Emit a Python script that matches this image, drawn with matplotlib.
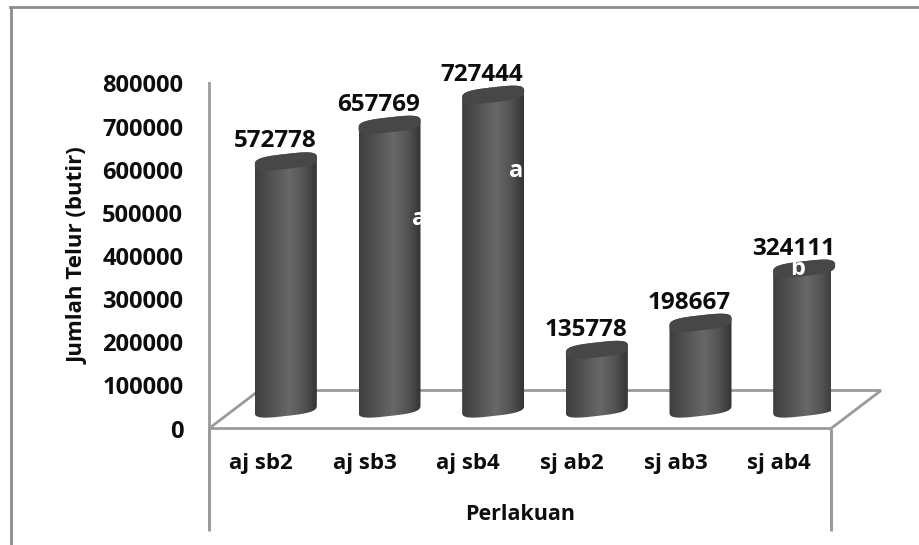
"""Egg counts per treatment as a pseudo-3D cylinder chart."""
import matplotlib

matplotlib.use("Agg")

import matplotlib.pyplot as plt
import numpy as np
from matplotlib.colors import LinearSegmentedColormap
from matplotlib.lines import Line2D
from matplotlib.patches import PathPatch, Polygon
from matplotlib.path import Path

plt.rcParams["font.family"] = ["Open Sans", "DejaVu Sans"]
plt.rcParams["font.weight"] = "bold"

categories = ["aj sb2", "aj sb3", "aj sb4", "sj ab2", "sj ab3", "sj ab4"]
egg_counts = [572778, 657769, 727444, 135778, 198667, 324111]
y_ticks = [0, 100000, 200000, 300000, 400000, 500000, 600000, 700000, 800000]
letters = [("a", 1, 485000), ("a", 2, 597000), ("b", 5, 369000)]

WIDTH, HEIGHT = 919, 545
GREY = "#9a9a9a"
INK = "#0d0d0d"

fig = plt.figure(figsize=(WIDTH / 100, HEIGHT / 100), dpi=100)
ax = fig.add_axes(
    [209 / WIDTH, 1 - 428.5 / HEIGHT, 622 / WIDTH, 345 / HEIGHT]
)
ax.set_xlim(-0.5, 5.5)
ax.set_ylim(0, 800000)

x_per_px = 6 / 622
y_per_px = 800000 / 345
depth_x = 50 * x_per_px
depth_y = 38 * y_per_px
# cylinders stand in the middle of the floor, halfway back
offset_x = 25 * x_per_px
offset_y = 20 * y_per_px
half_w = 31 * x_per_px
ell_h = 7.5 * y_per_px
ell_shear = 3.5 * y_per_px

ax.patch.set_visible(False)
for name in ("top", "right", "bottom"):
    ax.spines[name].set_visible(False)
ax.spines["left"].set_color(GREY)
ax.spines["left"].set_linewidth(2)
ax.spines["left"].set_bounds(0, 800000)

# floor outline, front edge is the category axis
floor = Polygon(
    [(-0.5, 0), (-0.5 + depth_x, depth_y), (5.5 + depth_x, depth_y), (5.5, 0)],
    closed=True, fill=False, edgecolor=GREY, linewidth=2, clip_on=False, zorder=1,
)
ax.add_patch(floor)
for x_edge in (-0.5, 5.5):
    ax.plot([x_edge, x_edge], [0, -102 * y_per_px], color=GREY, lw=2.2,
            clip_on=False, solid_capstyle="butt", zorder=1)

shade = LinearSegmentedColormap.from_list(
    "cyl",
    [(0, "#3e3e3e"), (0.22, "#4e4e4e"), (0.55, "#686868"), (0.8, "#525252"), (1, "#343434")],
)
gradient = np.linspace(0, 1, 128).reshape(1, -1)


def ellipse_points(cx, cy, t):
    # slightly squared ellipse, tilted up towards the right
    c, s = np.cos(t), np.sin(t)
    c = np.sign(c) * np.abs(c) ** 0.62
    s = np.sign(s) * np.abs(s) ** 0.62
    return np.column_stack([cx + half_w * c, cy + ell_h * s + ell_shear * c])


for i, value in enumerate(egg_counts):
    cx = i + offset_x
    base = offset_y
    top = value + offset_y
    # body: along the front of the base, then back over the top rim
    lower = ellipse_points(cx, base, np.linspace(np.pi, 2 * np.pi, 40))
    upper = ellipse_points(cx, top, np.linspace(0, np.pi, 40))
    outline = np.vstack([lower, upper, lower[:1]])
    body = PathPatch(Path(outline, closed=True), facecolor="none", edgecolor="none",
                     zorder=3, clip_on=False)
    ax.add_patch(body)
    im = ax.imshow(
        gradient, cmap=shade, aspect="auto", zorder=3,
        extent=(cx - half_w, cx + half_w, base - 2 * ell_h, top + 2 * ell_h),
    )
    im.set_clip_path(body)
    cap = Polygon(ellipse_points(cx, top, np.linspace(0, 2 * np.pi, 80)), closed=True,
                  facecolor="#474747", edgecolor="none", zorder=4, clip_on=False)
    ax.add_patch(cap)
    ax.text(cx - 11 * x_per_px, top + 20 * y_per_px, str(value), ha="center", va="center",
            fontsize=17.5, fontweight="bold", color=INK, zorder=6, clip_on=False)

ax.set_xlim(-0.5, 5.5)
ax.set_ylim(0, 800000)

for letter, i, y in letters:
    shift = 30 * x_per_px if i == 1 else 23 * x_per_px if i == 2 else -7 * x_per_px
    ax.text(i + offset_x + shift, y, letter, color="white", fontsize=17,
            fontweight="bold", ha="center", va="center", zorder=5)

ax.set_yticks(y_ticks)
ax.tick_params(axis="y", length=0, pad=18.5, labelsize=17, labelcolor=INK)
ax.set_xticks(range(len(categories)))
ax.set_xticklabels(categories, fontsize=16, fontweight="bold", color=INK)
ax.tick_params(axis="x", length=0, pad=18)
ax.set_xlabel("Perlakuan", fontsize=15.5, fontweight="bold", color=INK, labelpad=21)
fig.text(78 / WIDTH, 1 - 256 / HEIGHT, "Jumlah Telur (butir)", rotation=90,
         ha="center", va="center", fontsize=16, fontweight="bold", color=INK)

# thin frame running off the right and bottom edges
fig.add_artist(Line2D([10.5 / WIDTH, 10.5 / WIDTH], [0, 1 - 7 / HEIGHT], color="#8c8c8c", lw=2))
fig.add_artist(Line2D([10 / WIDTH, 1], [1 - 7 / HEIGHT, 1 - 7 / HEIGHT], color="#8c8c8c", lw=2))

fig.savefig("out.png", dpi=100)
